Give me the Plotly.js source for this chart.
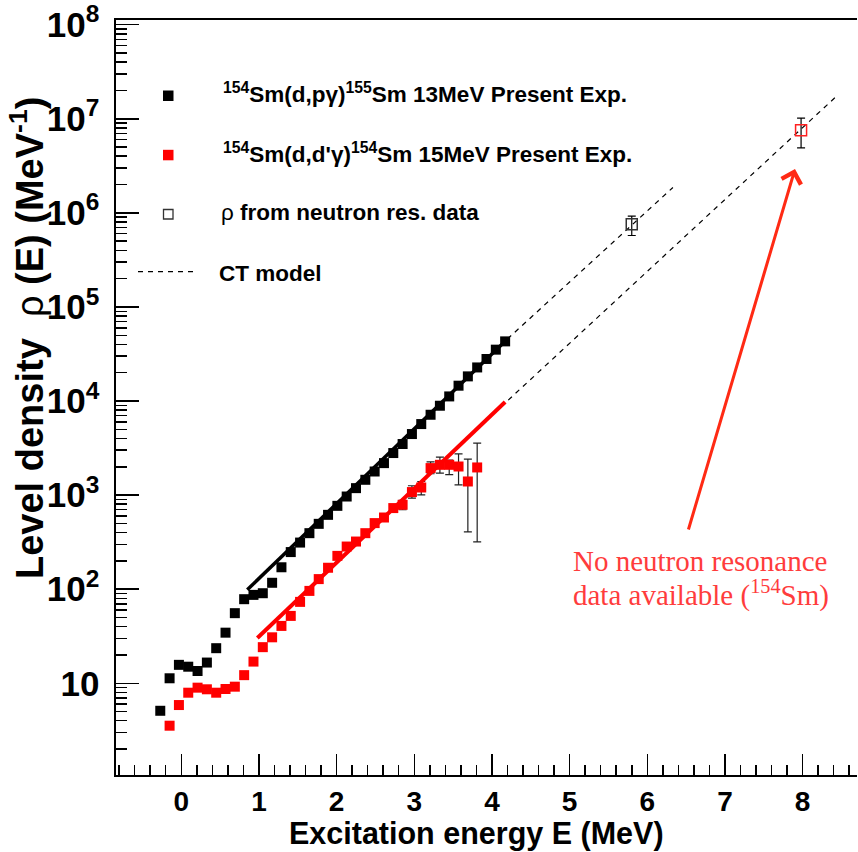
<!DOCTYPE html>
<html>
<head>
<meta charset="utf-8">
<script src="https://cdn.plot.ly/plotly-3.0.1.min.js"></script>
<style>html,body{margin:0;padding:0;background:#fff;}#chart{width:858px;height:852px;}</style>
</head>
<body>
<div id="chart"></div>
<script>
// ---- data ----
const blackE = [-0.27,-0.15,-0.03,0.09,0.21,0.33,0.45,0.57,0.69,0.81,0.93,1.05,1.17,1.29,1.41,1.53,1.65,1.77,1.89,2.01,2.13,2.25,2.37,2.49,2.61,2.73,2.85,2.97,3.09,3.21,3.33,3.45,3.57,3.69,3.81,3.93,4.05,4.17];
const blackRho = [5.1,11.3,15.7,15.0,13.5,16.6,23.6,34.5,55.6,78.3,87,90.6,117,171,248,313,394,495,617,769,966,1186,1455,1782,2188,2799,3491,4457,5689,7145,8913,11194,14555,18281,22751,27990,35156,43053];
const blackErr = [0,0,0,0,0,0,0,0,0,0,0,0,0,0,0,0,0,0,0,0,0,0,0,0,0,0,0,0,0,0,0,0,0,0,0,1500,2500,4000];

const redE = [-0.15,-0.03,0.09,0.21,0.33,0.45,0.57,0.69,0.81,0.93,1.05,1.17,1.29,1.41,1.53,1.65,1.77,1.89,2.01,2.13,2.25,2.37,2.49,2.61,2.73,2.85,2.97,3.09,3.21,3.33,3.45,3.57,3.69,3.81];
const redRho = [3.54,5.87,7.94,8.98,8.63,7.94,8.69,9.2,12.2,17.0,24.2,30.8,40.7,52.0,73.3,95.9,128,169,226,284,321,394,504,578,728,789,1077,1205,1937,2099,2099,2014,1396,1968];
const redErrPlus  = [0,0,0,0,0,0,0,0,0,0,0,0,0,0,0,0,0,0,0,0,0,0,0,0,60,90,180,190,320,430,250,730,1020,1600];
const redErrMinus = [0,0,0,0,0,0,0,0,0,0,0,0,0,0,0,0,0,0,0,0,0,0,0,0,60,90,150,200,250,385,450,730,990,1650];

const nresE = [5.80];
const nresRho = [7.55e5];
const nresErrPlus = [1.7e5];
const nresErrMinus = [1.8e5];

const nres154E = [7.98];
const nres154Rho = [7.57e6];
const nres154ErrPlus = [2.57e6];
const nres154ErrMinus = [2.66e6];

// CT model (fit range solid, extrapolation dashed)
const ct155FitE = [0.85, 4.2];
const ct155FitRho = [98.6, 45700];
const ct155ExtE = [4.2, 6.33];
const ct155ExtRho = [45700, 1.86e6];
const ct154FitE = [0.98, 4.17];
const ct154FitRho = [30.3, 9750];
const ct154ExtE = [4.21, 8.45];
const ct154ExtRho = [10230, 1.78e7];

const xTickVals = [0,1,2,3,4,5,6,7,8];

// ---- helpers for paper coordinates ----
const W = 858, H = 852, ML = 116, MR = 1, MT = 20, MB = 77;
const PW = W - ML - MR, PH = H - MT - MB;
const px = v => (v - ML) / PW;
const py = v => (H - MB - v) / PH;

const FONT = 'Liberation Sans, Arial, Helvetica, sans-serif';

const traces = [
  {x: ct155ExtE, y: ct155ExtRho, mode: 'lines', line: {color: '#000', width: 1.2, dash: '5px,5px'}, hoverinfo: 'skip'},
  {x: ct154ExtE, y: ct154ExtRho, mode: 'lines', line: {color: '#000', width: 1.2, dash: '5px,5px'}, hoverinfo: 'skip'},
  {x: ct155FitE, y: ct155FitRho, mode: 'lines', line: {color: '#000', width: 3.5}},
  {x: blackE, y: blackRho, mode: 'markers', marker: {symbol: 'square', size: 10, color: '#000'},
   error_y: {type: 'data', array: blackErr, color: '#000', thickness: 1.2, width: 4}},
  {x: redE, y: redRho, mode: 'markers', marker: {symbol: 'square', size: 10, color: '#ff0000'},
   error_y: {type: 'data', symmetric: false, array: redErrPlus, arrayminus: redErrMinus, color: '#222', thickness: 1.2, width: 4}},
  {x: ct154FitE, y: ct154FitRho, mode: 'lines', line: {color: '#ff0000', width: 4}},
  {x: nresE, y: nresRho, mode: 'markers', marker: {symbol: 'square-open', size: 11, color: '#333', line: {width: 1.5}},
   error_y: {type: 'data', symmetric: false, array: nresErrPlus, arrayminus: nresErrMinus, color: '#000', thickness: 1.2, width: 4}},
  {x: nres154E, y: nres154Rho, mode: 'markers', marker: {symbol: 'square-open', size: 11, color: '#ff2020', line: {width: 1.5}},
   error_y: {type: 'data', symmetric: false, array: nres154ErrPlus, arrayminus: nres154ErrMinus, color: '#000', thickness: 1.2, width: 4}}
];

const legendFont = {family: FONT, size: 22.5, color: '#000', weight: 'bold'};

const layout = {
  width: W, height: H,
  margin: {l: ML, r: MR, t: MT, b: MB},
  paper_bgcolor: '#fff', plot_bgcolor: '#fff',
  showlegend: false,
  xaxis: {
    range: [-0.84, 8.70], tickvals: xTickVals, ticktext: xTickVals.map(String),
    showline: true, linecolor: '#000', linewidth: 2, mirror: true,
    ticks: 'inside', ticklen: 21, tickwidth: 1.5, tickcolor: '#000',
    minor: {ticks: 'inside', ticklen: 10, tickwidth: 1.5, tickcolor: '#000', dtick: 0.2, tick0: 0, showgrid: false},
    showgrid: false, zeroline: false,
    tickfont: {family: FONT, size: 28, color: '#000', weight: 'bold'},
    ticklabelstandoff: 0
  },
  yaxis: {
    type: 'log', range: [0.025, 8.05], dtick: 1, exponentformat: 'power',
    showline: true, linecolor: '#000', linewidth: 2,
    ticks: 'inside', ticklen: 23, tickwidth: 1.5, tickcolor: '#000',
    minor: {ticks: 'inside', ticklen: 11, tickwidth: 1.5, tickcolor: '#000', dtick: 'D1', showgrid: false},
    showgrid: false, zeroline: false,
    tickfont: {family: FONT, size: 28, color: '#000', weight: 'bold'},
    ticklabelstandoff: 9, ticklabeloverflow: 'allow'
  },
  shapes: [
    {type: 'rect', xref: 'paper', yref: 'paper', x0: px(163), x1: px(173.5), y0: py(101), y1: py(90.5), fillcolor: '#000', line: {width: 0}},
    {type: 'rect', xref: 'paper', yref: 'paper', x0: px(163), x1: px(173.5), y0: py(160.3), y1: py(149.8), fillcolor: '#ff0000', line: {width: 0}},
    {type: 'rect', xref: 'paper', yref: 'paper', x0: px(163.5), x1: px(173), y0: py(219), y1: py(209.5), fillcolor: 'rgba(0,0,0,0)', line: {width: 1.3, color: '#333'}},
    {type: 'line', xref: 'paper', yref: 'paper', x0: px(138), x1: px(196), y0: py(271.7), y1: py(271.7), line: {width: 1.2, color: '#000', dash: '5px,5px'}}
  ],
  annotations: [
    {xref: 'paper', yref: 'paper', x: px(221), y: py(93), xanchor: 'left', yanchor: 'middle', showarrow: false,
     text: '<sup>154</sup>Sm(d,pγ)<sup>155</sup>Sm 13MeV Present Exp.', font: legendFont},
    {xref: 'paper', yref: 'paper', x: px(221), y: py(153), xanchor: 'left', yanchor: 'middle', showarrow: false,
     text: "<sup>154</sup>Sm(d,d'γ)<sup>154</sup>Sm 15MeV Present Exp.", font: legendFont},
    {xref: 'paper', yref: 'paper', x: px(219), y: py(212), xanchor: 'left', yanchor: 'middle', showarrow: false,
     text: '<span style="font-weight:normal">ρ</span> from neutron res. data', font: legendFont},
    {xref: 'paper', yref: 'paper', x: px(217), y: py(273), xanchor: 'left', yanchor: 'middle', showarrow: false,
     text: 'CT model', font: legendFont},
    {xref: 'paper', yref: 'paper', x: px(476), y: py(833), xanchor: 'center', yanchor: 'middle', showarrow: false,
     text: 'Excitation energy E (MeV)', font: {family: FONT, size: 30.5, color: '#000', weight: 'bold'}},
    {xref: 'paper', yref: 'paper', x: px(27), y: py(338), xanchor: 'center', yanchor: 'middle', showarrow: false, textangle: -90,
     text: 'Level density  <span style="font-weight:normal">ρ</span> (E) (MeV<sup>-1</sup>)', font: {family: FONT, size: 38, color: '#000', weight: 'bold'}},
    {xref: 'paper', yref: 'paper', x: px(795), y: py(169), showarrow: true, ax: -107, ay: 362,
     arrowhead: 4, arrowsize: 1.3, arrowwidth: 3, arrowcolor: '#ff2a14', text: ''},
    {xref: 'paper', yref: 'paper', x: px(571), y: py(561), xanchor: 'left', yanchor: 'middle', showarrow: false,
     text: 'No neutron resonance', font: {family: 'Liberation Serif, Times New Roman, serif', size: 29, color: '#ff3c3c'}},
    {xref: 'paper', yref: 'paper', x: px(571), y: py(593), xanchor: 'left', yanchor: 'middle', showarrow: false,
     text: 'data available (<sup>154</sup>Sm)', font: {family: 'Liberation Serif, Times New Roman, serif', size: 29, color: '#ff3c3c'}}
  ]
};

Plotly.newPlot('chart', traces, layout, {staticPlot: true, displayModeBar: false});
</script>
</body>
</html>
